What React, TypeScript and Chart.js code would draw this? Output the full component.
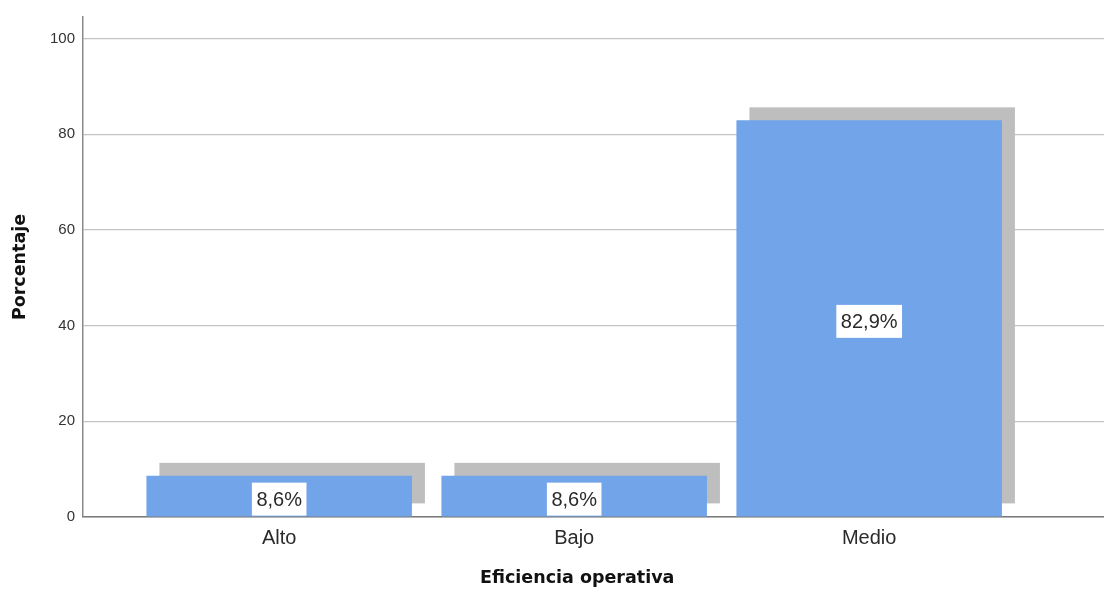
import React, { useEffect, useRef } from "react";
import { Chart, registerables } from "chart.js";

Chart.register(...registerables);

const categories: string[] = ["Alto", "Bajo", "Medio"];
const percentages: number[] = [8.6, 8.6, 82.9];
const yTickValues: number[] = [0, 20, 40, 60, 80, 100];
const xTitle = "Eficiencia operativa";
const yTitle = "Porcentaje";

const BAR_COLOR = "#71A4E9";
const SHADOW_COLOR = "#BEBEBE";
const SHADOW_OFFSET = 13;

const shadowPlugin = {
  id: "shadowBars",
  beforeDatasetsDraw(chart: any) {
    const ctx = chart.ctx;
    const meta = chart.getDatasetMeta(0);
    ctx.save();
    ctx.fillStyle = SHADOW_COLOR;
    meta.data.forEach((el: any) => {
      const p = el.getProps(["x", "y", "base", "width"], true);
      ctx.fillRect(p.x - p.width / 2 + SHADOW_OFFSET, p.y - SHADOW_OFFSET, p.width, p.base - p.y);
    });
    ctx.restore();
  },
};

const labelPlugin = {
  id: "valueLabels",
  afterDatasetsDraw(chart: any) {
    const ctx = chart.ctx;
    const meta = chart.getDatasetMeta(0);
    ctx.save();
    ctx.font = "20px 'Liberation Sans', Arial, sans-serif";
    ctx.textAlign = "center";
    ctx.textBaseline = "middle";
    meta.data.forEach((el: any, i: number) => {
      const p = el.getProps(["x", "y", "base"], true);
      const text = percentages[i].toFixed(1).replace(".", ",") + "%";
      const w = ctx.measureText(text).width + 9;
      const h = 33;
      const cy = (p.y + p.base) / 2 + 3;
      ctx.fillStyle = "#ffffff";
      ctx.fillRect(p.x - w / 2, cy - h / 2, w, h);
      ctx.fillStyle = "#2a2a2a";
      ctx.fillText(text, p.x, cy + 1);
    });
    ctx.restore();
  },
};

const titlePlugin = {
  id: "axisTitles",
  afterDraw(chart: any) {
    const ctx = chart.ctx;
    const area = chart.chartArea;
    const xs = chart.scales.x;
    ctx.save();
    ctx.fillStyle = "#111111";
    ctx.font = "bold 17.5px 'DejaVu Sans', sans-serif";
    ctx.textAlign = "center";
    ctx.textBaseline = "middle";
    ctx.fillText(xTitle, xs.getPixelForValue(1) + 3, 578);
    ctx.translate(20, (area.top + area.bottom) / 2);
    ctx.rotate(-Math.PI / 2);
    ctx.fillText(yTitle, 0, 0);
    ctx.restore();
  },
};

export default function App() {
  const ref = useRef<HTMLCanvasElement | null>(null);

  useEffect(() => {
    if (!ref.current) return;
    const chart = new Chart(ref.current, {
      type: "bar",
      data: {
        datasets: [
          {
            data: categories.map((_, i) => ({ x: i, y: percentages[i] })),
            backgroundColor: BAR_COLOR,
            borderWidth: 0,
            barPercentage: 0.9,
            categoryPercentage: 1,
          },
        ],
      },
      options: {
        responsive: false,
        animation: false,
        layout: { padding: { top: 15, right: 0, left: 0, bottom: 0 } },
        plugins: {
          legend: { display: false },
          tooltip: { enabled: false },
        },
        scales: {
          x: {
            type: "linear",
            offset: false,
            min: -0.665,
            max: 2.796,
            afterBuildTicks: (s: any) => {
              s.ticks = categories.map((_, i) => ({ value: i }));
            },
            afterFit: (s: any) => {
              s.height = 73;
            },
            ticks: {
              callback: (v: any) => categories[Math.round(Number(v))] ?? "",
              color: "#2a2a2a",
              font: { family: "'Liberation Sans', Arial, sans-serif", size: 20 },
              padding: 9,
              maxRotation: 0,
              autoSkip: false,
            },
            grid: { display: false, drawTicks: false, offset: false },
            border: { display: true, color: "#7a7a7a", width: 1.5 },
          },
          y: {
            type: "linear",
            min: 0,
            max: 104.5,
            afterBuildTicks: (s: any) => {
              s.ticks = yTickValues.map((v) => ({ value: v }));
            },
            afterFit: (s: any) => {
              s.width = 83;
            },
            ticks: {
              color: "#333333",
              font: { family: "'Liberation Sans', Arial, sans-serif", size: 15 },
              padding: 8,
            },
            grid: { color: "#c4c4c4", lineWidth: 1.2, drawTicks: false },
            border: { display: true, color: "#8a8a8a", width: 1.5 },
          },
        },
      },
      plugins: [shadowPlugin, labelPlugin, titlePlugin],
    } as any);
    return () => chart.destroy();
  }, []);

  return (
    <div style={{ position: "absolute", left: 0, top: 0, width: 1104, height: 590, background: "#ffffff" }}>
      <canvas ref={ref} width={1104} height={590} style={{ display: "block" }} />
    </div>
  );
}
